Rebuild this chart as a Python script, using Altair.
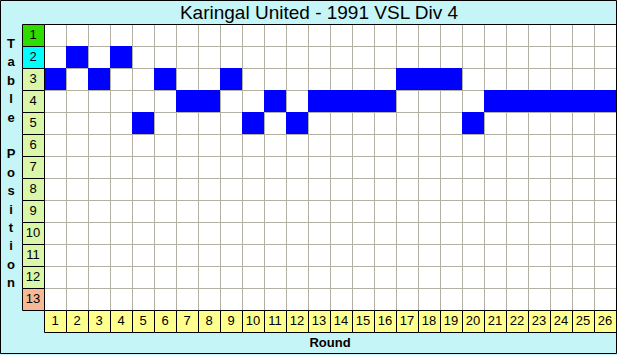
import altair as alt
import pandas as pd

# ---- data ----
rounds = list(range(1, 27))
positions = [3, 2, 3, 2, 5, 3, 4, 4, 3, 5, 4, 5, 4, 4, 4, 4, 3, 3, 3, 5, 4, 4, 4, 4, 4, 4]
table_positions = list(range(1, 14))
zones = ["first", "second"] + ["middle"] * 10 + ["last"]
title_text = "Karingal United - 1991 VSL Div 4"
x_title = "Round"
y_title = "Table Position"

# ---- layout (pixels) ----
W, H = 617, 355
CELL = 22
LEFT, TOP = 44, 24
YT_FIRST, YT_STEP, YT_X = 44, 18.4, 11
n_r = len(rounds)
n_p = len(table_positions)

xs = alt.Scale(domain=[-LEFT / CELL, (W - LEFT) / CELL], nice=False, zero=False)
ys = alt.Scale(domain=[-TOP / CELL, (H - TOP) / CELL], nice=False, zero=False, reverse=True)

GRID = "#b3b0a4"
FONT = "Liberation Sans"


def X(f):
    return alt.X(f, type="quantitative", scale=xs, axis=None)


def Y(f):
    return alt.Y(f, type="quantitative", scale=ys, axis=None)


box = pd.DataFrame({"x0": [0], "x1": [n_r], "y0": [0], "y1": [n_p]})
white = alt.Chart(box).mark_rect(color="white").encode(x=X("x0"), x2="x1", y=Y("y0"), y2="y1")

vl = pd.DataFrame({"x": rounds[:-1], "y0": 0, "y1": n_p})
vlines = alt.Chart(vl).mark_rule(color=GRID, strokeWidth=1, xOffset=0.5).encode(
    x=X("x"), y=Y("y0"), y2="y1")
hl = pd.DataFrame({"y": table_positions[:-1], "x0": 0, "x1": n_r})
hlines = alt.Chart(hl).mark_rule(color=GRID, strokeWidth=1, yOffset=0.5).encode(
    y=Y("y"), x=X("x0"), x2="x1")

df = pd.DataFrame({"round": rounds, "pos": positions})
df["x0"] = df["round"] - 1
df["y0"] = df["pos"] - 1
bars = alt.Chart(df).mark_rect(color="#0000ff").encode(
    x=X("x0"), x2="round", y=Y("y0"), y2="pos",
    tooltip=["round", "pos"])

off = dict(xOffset=0.5, x2Offset=0.5, yOffset=0.5, y2Offset=0.5)
border = alt.Chart(box).mark_rect(fill=None, stroke="black", strokeWidth=1, **off).encode(
    x=X("x0"), x2="x1", y=Y("y0"), y2="y1")

pl = pd.DataFrame({"pos": table_positions, "zone": zones})
pl["y0"] = pl["pos"] - 1
pl["x0"] = -1
pl["x1"] = 0
pl["xm"] = -0.5
pl["ym"] = pl["pos"] - 0.5
ycells = alt.Chart(pl).mark_rect(stroke="black", strokeWidth=1, **off).encode(
    x=X("x0"), x2="x1", y=Y("y0"), y2="pos",
    fill=alt.Fill("zone:N", legend=None,
                  scale=alt.Scale(domain=["first", "second", "middle", "last"],
                                  range=["#30dc00", "#00ffff", "#d9f6a9", "#f7b896"])))
ytext = alt.Chart(pl).mark_text(font=FONT, fontSize=13, color="black", baseline="middle").encode(
    x=X("xm"), y=Y("ym"), text="pos:N")

rl = pd.DataFrame({"round": rounds})
rl["x0"] = rl["round"] - 1
rl["y0"] = n_p
rl["y1"] = n_p + 1
rl["xm"] = rl["round"] - 0.5
rl["ym"] = n_p + 0.5
xcells = alt.Chart(rl).mark_rect(fill="#ffff8e", stroke="black", strokeWidth=1, **off).encode(
    x=X("x0"), x2="round", y=Y("y0"), y2="y1")
xtext = alt.Chart(rl).mark_text(font=FONT, fontSize=13, color="black", baseline="middle").encode(
    x=X("xm"), y=Y("ym"), text="round:N")

tt = pd.DataFrame({"t": [title_text], "x": [(n_r - 1) / 2], "y": [-0.5]})
title = alt.Chart(tt).mark_text(font=FONT, fontSize=19, color="black", baseline="middle").encode(
    x=X("x"), y=Y("y"), text="t")

rt = pd.DataFrame({"t": [x_title], "x": [n_r / 2], "y": [n_p + 1.5]})
rtitle = alt.Chart(rt).mark_text(font=FONT, fontSize=13, fontWeight="bold", color="black",
                                 baseline="middle").encode(x=X("x"), y=Y("y"), text="t")

letters = list(y_title)
yt = pd.DataFrame({"t": letters, "i": list(range(len(letters)))})
yt["x"] = (YT_X - LEFT) / CELL
yt["y"] = (YT_FIRST - TOP + YT_STEP * yt["i"]) / CELL
ytitle = alt.Chart(yt).mark_text(font=FONT, fontSize=13, fontWeight="bold", color="black",
                                 baseline="middle").encode(x=X("x"), y=Y("y"), text="t")

frame = alt.Chart(box).mark_rect(fill=None, stroke="black", strokeWidth=1).encode(
    x=alt.value(0.5), x2=alt.value(W - 0.5), y=alt.value(0.5), y2=alt.value(H - 1.5))

chart = alt.layer(
    white, vlines, hlines, bars, border, ycells, ytext, xcells, xtext, title, rtitle, ytitle, frame
).properties(
    width=W, height=H, autosize="none", padding=0, background="#c6f5f8"
).configure_view(stroke=None)

chart.save("out.html", embed_options={"renderer": "svg", "actions": False})
